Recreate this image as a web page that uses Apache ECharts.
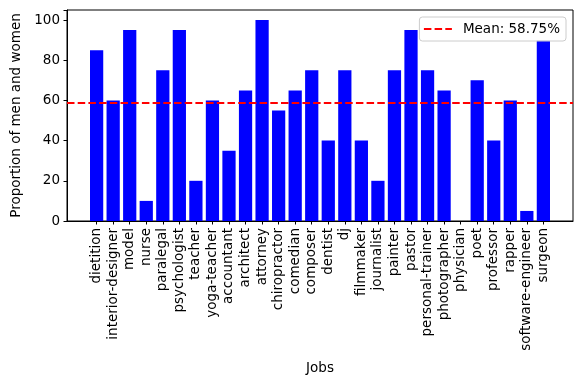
<!DOCTYPE html>
<html>
<head>
<meta charset="utf-8">
<script src="https://cdn.jsdelivr.net/npm/echarts@6/dist/echarts.min.js"></script>
<style>
  html, body { margin: 0; padding: 0; background: #fff; }
  #chart { width: 574px; height: 378px; }
</style>
</head>
<body>
<div id="chart"></div>
<script>
// Jobs and the proportion value for each one
const jobs = [
  'dietition', 'interior-designer', 'model', 'nurse', 'paralegal', 'psychologist',
  'teacher', 'yoga-teacher', 'accountant', 'architect', 'attorney', 'chiropractor',
  'comedian', 'composer', 'dentist', 'dj', 'filmmaker', 'journalist', 'painter',
  'pastor', 'personal-trainer', 'photographer', 'physician', 'poet', 'professor',
  'rapper', 'software-engineer', 'surgeon'
];
const proportions = [
  85, 60, 95, 10, 75, 95, 20, 60, 35, 65, 100, 55, 65, 75, 40, 75, 40, 20, 75,
  95, 75, 65, 0, 70, 40, 60, 5, 90
];
const yTicks = [0, 20, 40, 60, 80, 100];

const mean = proportions.reduce((a, b) => a + b, 0) / proportions.length;
const meanLabel = 'Mean: ' + mean.toFixed(2) + '%';

const FONT = 'DejaVu Sans';
const FS = 13.5;

// Outer plot frame spans 67..573 px; bars sit in an inner grid inset by the side margins
const frameLeft = 67, frameRight = 1, frameTop = 10, frameBottom = 157;
const frameWidth = 574 - frameLeft - frameRight;
const xSpan = (jobs.length - 1) + 0.8 + 2 * 0.05 * ((jobs.length - 1) + 0.8);
const unit = frameWidth / xSpan;
const inset = (0.05 * ((jobs.length - 1) + 0.8) + 0.4 - 0.5) * unit;

const chart = echarts.init(document.getElementById('chart'), null, { renderer: 'canvas' });

chart.setOption({
  animation: false,
  backgroundColor: '#fff',
  textStyle: { fontFamily: FONT },
  legend: {
    data: [meanLabel],
    right: 8,
    top: 17,
    orient: 'horizontal',
    backgroundColor: 'rgba(255,255,255,0.8)',
    borderColor: '#cccccc',
    borderWidth: 1,
    borderRadius: 3,
    padding: [5, 6, 5, 3.5],
    itemWidth: 28,
    itemHeight: 14,
    itemStyle: { color: 'transparent', borderWidth: 0, opacity: 0 },
    lineStyle: { color: '#ff0000', width: 2, type: [7.5, 3.2] },
    textStyle: { fontFamily: FONT, fontSize: FS, color: '#000', padding: [0, 0, 0, 6] }
  },
  grid: [
    { left: frameLeft, right: frameRight, top: frameTop, bottom: frameBottom,
      outerBoundsMode: 'none', containLabel: false,
      show: true, borderColor: '#000', borderWidth: 1, backgroundColor: 'transparent' },
    { left: frameLeft + inset, right: frameRight + inset, top: frameTop, bottom: frameBottom,
      outerBoundsMode: 'none', containLabel: false }
  ],
  xAxis: [
    {
      gridIndex: 0, type: 'value', min: 0, max: 1,
      name: 'Jobs', nameLocation: 'middle', nameGap: 140,
      nameTextStyle: { fontFamily: FONT, fontSize: FS, color: '#000' },
      axisLine: { show: true, lineStyle: { color: '#000', width: 1 } },
      axisTick: { show: false }, axisLabel: { show: false }, splitLine: { show: false }
    },
    {
      gridIndex: 1, type: 'category', data: jobs, boundaryGap: true,
      axisLine: { show: false },
      axisTick: { show: true, alignWithLabel: true, length: 3.5, lineStyle: { color: '#000' } },
      axisLabel: { rotate: 90, interval: 0, margin: 7, fontFamily: FONT, fontSize: FS, color: '#000' },
      splitLine: { show: false }
    }
  ],
  yAxis: [
    {
      gridIndex: 0, type: 'value', min: 0, max: 105, interval: 20,
      name: 'Proportion of men and women', nameLocation: 'middle', nameGap: 42,
      nameTextStyle: { fontFamily: FONT, fontSize: FS, color: '#000' },
      axisLine: { show: true, lineStyle: { color: '#000', width: 1 } },
      axisTick: { show: true, length: 3.5, lineStyle: { color: '#000' } },
      axisLabel: {
        margin: 7, fontFamily: FONT, fontSize: FS, color: '#000',
        formatter: v => (yTicks.indexOf(v) >= 0 ? String(v) : '')
      },
      splitLine: { show: false }
    },
    {
      gridIndex: 1, type: 'value', min: 0, max: 105,
      axisLine: { show: false }, axisTick: { show: false }, axisLabel: { show: false },
      splitLine: { show: false }
    }
  ],
  series: [
    {
      name: 'Proportion',
      type: 'bar',
      xAxisIndex: 1, yAxisIndex: 1,
      data: proportions,
      barCategoryGap: '20%',
      itemStyle: { color: '#0000ff' },
      z: 2
    },
    {
      name: meanLabel,
      type: 'line',
      xAxisIndex: 0, yAxisIndex: 0,
      data: [[0, mean], [1, mean]],
      symbol: 'none',
      lineStyle: { color: '#ff0000', width: 2, type: [7.5, 3.2] },
      itemStyle: { color: '#ff0000' },
      z: 5
    }
  ]
});
</script>
</body>
</html>
